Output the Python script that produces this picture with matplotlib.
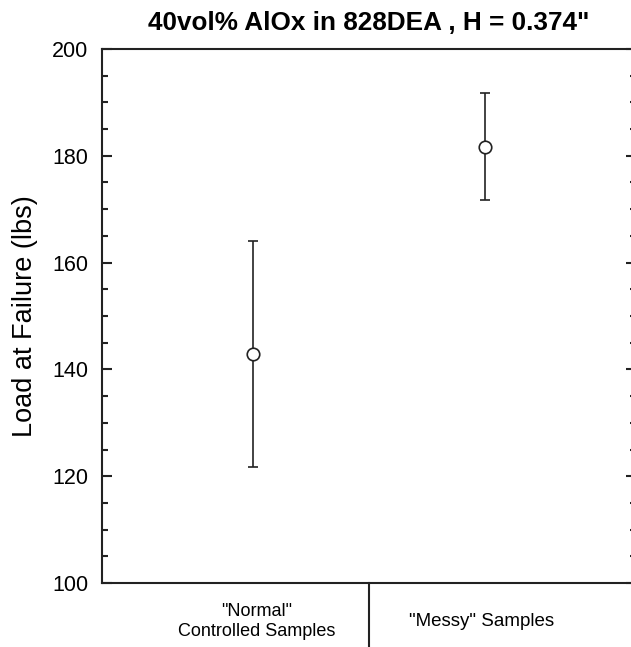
import matplotlib.pyplot as plt
from matplotlib.transforms import blended_transform_factory

plt.rcParams['font.family'] = ['Liberation Sans', 'DejaVu Sans']

groups = ['"Normal"\nControlled Samples', '"Messy" Samples']
xpos = [1, 2]
load_mean = [142.9, 181.7]
load_err = [21.2, 10.0]

fig = plt.figure(figsize=(6.31, 6.47), dpi=100)
ax = fig.add_axes([0.1617, 0.0989, 0.846, 0.8254])

ax.errorbar(xpos, load_mean, yerr=load_err, fmt='o', color='#222222',
            markerfacecolor='white', markeredgecolor='#222222', markersize=9,
            markeredgewidth=1.2, elinewidth=1.2, capsize=3.5, capthick=1.2)

ax.set_xlim(0.35, 2.65)
ax.set_ylim(100, 200)
ax.set_yticks(range(100, 201, 20))
ax.set_yticks(range(100, 201, 5), minor=True)
ax.set_xticks([])
ax.tick_params(axis='y', which='both', direction='in', left=True, right=True,
               labelsize=15.5, pad=10, width=1.5, color='#222222')
ax.tick_params(axis='y', which='major', length=7)
ax.tick_params(axis='y', which='minor', length=4.3)
for s in ax.spines.values():
    s.set_linewidth(1.5)
    s.set_color('#222222')

ax.set_ylabel('Load at Failure (lbs)', fontsize=19.5, labelpad=10)
ax.set_title('40vol% AlOx in 828DEA , H = 0.374"', fontsize=18.8,
             fontweight='bold', pad=14)

# category box under the x axis
trans = blended_transform_factory(ax.transData, ax.transAxes)
ax.plot([1.5, 1.5], [0, -0.15], transform=trans, color='#222222', lw=1.5,
        clip_on=False)
ax.text(1.017, -0.038, groups[0], transform=trans, ha='center', va='top',
        fontsize=13, linespacing=1.2)
ax.text(1.987, -0.056, groups[1], transform=trans, ha='center', va='top',
        fontsize=13.5)

fig.savefig('out.png', dpi=100)
